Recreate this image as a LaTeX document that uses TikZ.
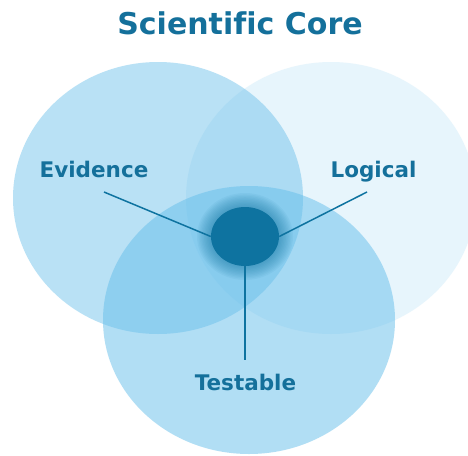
\documentclass[tikz,border=0pt]{standalone}
\usepackage{fontspec}
\setmainfont{DejaVu Sans}[Ligatures=NoCommon]
\usetikzlibrary{shapes.geometric}
\definecolor{inkblue}{RGB}{20,112,155}
\definecolor{coreblue}{RGB}{14,115,160}
\definecolor{ringblue}{RGB}{100,190,235}

\begin{document}
\begin{tikzpicture}[x=1pt,y=-1pt,
	label/.style={text=inkblue, font=\bfseries\fontsize{21.5}{26}\selectfont, anchor=base},
	ring/.style={fill=ringblue},
	spoke/.style={draw=coreblue, line width=1.5pt}]

	\clip (0,0) rectangle (468,455);
	\fill[white] (0,0) rectangle (468,455);

	% the three sets
	\fill[ring, fill opacity=0.45] (158,198) ellipse [x radius=145, y radius=136];
	\fill[ring, fill opacity=0.15] (331,198) ellipse [x radius=145, y radius=136];
	\fill[ring, fill opacity=0.5] (249,320) ellipse [x radius=146, y radius=134];

	% glow round the core
	\foreach \r in {1,...,10}
		\fill[coreblue, fill opacity=0.06] (245,236.5) ellipse [x radius=34+1.4*\r, y radius=29.5+1.4*\r];

	\node[ellipse, fill=coreblue, minimum width=68pt, minimum height=59pt, inner sep=0pt] (core) at (245,236.5) {};

	\node[text=inkblue, font=\bfseries\fontsize{30}{36}\selectfont, anchor=base] (title) at (240,34) {Scientific Core};
	\node[label] (evidence) at (94,177.5) {Evidence};
	\node[label] (logical) at (373.5,177) {Logical};
	\node[label] (testable) at (245.5,390) {Testable};

	\coordinate (evi end) at (104,192);
	\coordinate (log end) at (367,192);
	\coordinate (tst end) at (245,360);

	\draw[spoke] (evi end) -- (core.west);
	\draw[spoke] (log end) -- (core.east);
	\draw[spoke] (core.south) -- (tst end);
\end{tikzpicture}
\end{document}
